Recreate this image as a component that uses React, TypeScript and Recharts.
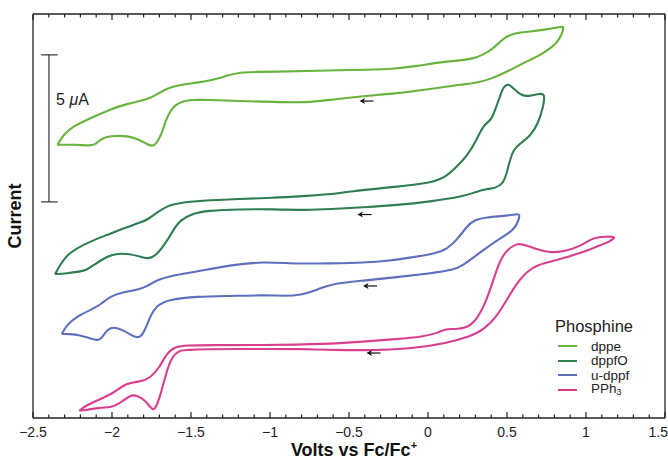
import React from 'react';
import { LineChart, Line, XAxis, YAxis, ReferenceLine, ReferenceDot, Legend } from 'recharts';

// potential (V vs Fc/Fc+) and current (uA, arbitrary offset)
const dppe: [number, number][] = [
  [-2.346, 9.29], [-2.308, 9.63], [-2.245, 9.93], [-2.139, 10.19], [-2.013, 10.5], [-1.907, 10.68], [-1.823, 10.78],
  [-1.759, 10.87], [-1.707, 11.04], [-1.644, 11.23], [-1.57, 11.33], [-1.464, 11.4], [-1.359, 11.5], [-1.274, 11.64],
  [-1.19, 11.76], [-1.084, 11.77], [-0.979, 11.78], [-0.768, 11.8], [-0.557, 11.83], [-0.409, 11.84], [-0.198, 11.88],
  [-0.072, 11.97], [0.076, 12.1], [0.182, 12.15], [0.287, 12.22], [0.35, 12.35], [0.413, 12.57], [0.477, 12.91],
  [0.54, 13.09], [0.646, 13.14], [0.751, 13.22], [0.835, 13.29], [0.863, 13.34],
  [0.846, 13.03], [0.815, 12.74], [0.73, 12.4], [0.646, 12.18], [0.561, 11.95], [0.477, 11.72], [0.392, 11.52],
  [0.308, 11.4], [0.223, 11.35], [0.013, 11.19], [-0.198, 11.04], [-0.409, 10.95], [-0.62, 10.82], [-0.768, 10.72],
  [-0.979, 10.75], [-1.19, 10.78], [-1.401, 10.82], [-1.485, 10.82], [-1.549, 10.78], [-1.601, 10.65], [-1.633, 10.42],
  [-1.658, 10.14], [-1.685, 9.68], [-1.717, 9.34], [-1.745, 9.23], [-1.78, 9.32], [-1.844, 9.51], [-1.907, 9.59],
  [-1.97, 9.6], [-2.034, 9.57], [-2.076, 9.46], [-2.108, 9.29], [-2.139, 9.26], [-2.245, 9.3], [-2.346, 9.29],
];

const dppfO: [number, number][] = [
  [-2.361, 4.89], [-2.329, 5.2], [-2.287, 5.54], [-2.223, 5.77], [-2.139, 6.0], [-2.034, 6.22], [-1.928, 6.45],
  [-1.823, 6.64], [-1.77, 6.76], [-1.717, 6.98], [-1.654, 7.21], [-1.57, 7.32], [-1.443, 7.39], [-1.19, 7.45],
  [-0.979, 7.49], [-0.768, 7.55], [-0.557, 7.64], [-0.409, 7.76], [-0.198, 7.87], [0.013, 7.98], [0.118, 8.21],
  [0.182, 8.55], [0.245, 8.89], [0.308, 9.46], [0.35, 9.97], [0.403, 10.14], [0.424, 10.48], [0.456, 10.93],
  [0.477, 11.27], [0.508, 11.38], [0.54, 11.21], [0.593, 10.95], [0.646, 10.95], [0.709, 11.04], [0.741, 11.02],
  [0.73, 10.59], [0.698, 10.02], [0.646, 9.57], [0.582, 9.34], [0.54, 9.12], [0.519, 8.78], [0.498, 8.32],
  [0.477, 7.98], [0.424, 7.81], [0.372, 7.79], [0.308, 7.7], [0.223, 7.53], [0.013, 7.36], [-0.198, 7.24],
  [-0.409, 7.17], [-0.62, 7.1], [-0.768, 7.07], [-0.979, 7.1], [-1.19, 7.1], [-1.401, 7.05], [-1.485, 6.96],
  [-1.57, 6.73], [-1.612, 6.39], [-1.654, 6.0], [-1.717, 5.54], [-1.77, 5.4], [-1.823, 5.49], [-1.886, 5.58],
  [-1.97, 5.6], [-2.034, 5.49], [-2.118, 5.2], [-2.16, 5.03], [-2.203, 4.98], [-2.287, 4.92], [-2.361, 4.89],
];

const uDppf: [number, number][] = [
  [-2.318, 2.86], [-2.287, 3.16], [-2.223, 3.45], [-2.139, 3.67], [-2.076, 3.84], [-2.013, 4.13], [-1.949, 4.26],
  [-1.844, 4.35], [-1.78, 4.47], [-1.717, 4.69], [-1.633, 4.83], [-1.464, 4.98], [-1.253, 5.2], [-1.042, 5.32],
  [-0.831, 5.24], [-0.62, 5.26], [-0.409, 5.28], [-0.241, 5.35], [-0.093, 5.47], [0.055, 5.6], [0.118, 5.74],
  [0.182, 6.05], [0.245, 6.51], [0.287, 6.73], [0.372, 6.83], [0.477, 6.87], [0.561, 6.93], [0.582, 6.94],
  [0.572, 6.68], [0.54, 6.39], [0.477, 6.17], [0.392, 5.88], [0.308, 5.54], [0.223, 5.2], [0.16, 5.03],
  [0.013, 4.92], [-0.198, 4.79], [-0.409, 4.67], [-0.62, 4.56], [-0.704, 4.35], [-0.81, 4.18], [-0.894, 4.15],
  [-1.042, 4.18], [-1.253, 4.15], [-1.464, 4.13], [-1.633, 4.04], [-1.717, 3.84], [-1.759, 3.45], [-1.791, 2.99],
  [-1.823, 2.71], [-1.865, 2.77], [-1.928, 2.99], [-1.992, 3.11], [-2.034, 2.99], [-2.065, 2.71], [-2.087, 2.63],
  [-2.139, 2.71], [-2.203, 2.82], [-2.266, 2.86], [-2.318, 2.86],
];

const pph3: [number, number][] = [
  [-2.207, 0.25], [-2.16, 0.44], [-2.076, 0.64], [-1.992, 0.84], [-1.907, 1.2], [-1.823, 1.23], [-1.759, 1.35],
  [-1.696, 1.74], [-1.654, 2.2], [-1.601, 2.43], [-1.527, 2.47], [-1.38, 2.48], [-1.063, 2.48], [-0.641, 2.51],
  [-0.409, 2.6], [-0.198, 2.68], [-0.03, 2.77], [0.055, 2.88], [0.108, 3.03], [0.16, 3.02], [0.245, 3.05],
  [0.308, 3.33], [0.372, 4.01], [0.413, 4.69], [0.456, 5.37], [0.498, 5.71], [0.561, 5.94], [0.603, 5.91],
  [0.688, 5.74], [0.772, 5.62], [0.856, 5.66], [0.962, 5.83], [1.046, 6.15], [1.131, 6.17], [1.194, 6.17],
  [1.152, 6.0], [1.068, 5.83], [0.962, 5.6], [0.815, 5.37], [0.688, 5.2], [0.625, 4.98], [0.561, 4.58],
  [0.498, 4.01], [0.435, 3.45], [0.35, 2.99], [0.266, 2.77], [0.118, 2.54], [-0.093, 2.37], [-0.304, 2.31],
  [-0.515, 2.3], [-0.81, 2.35], [-1.063, 2.35], [-1.443, 2.34], [-1.527, 2.31], [-1.57, 2.31], [-1.622, 2.09],
  [-1.658, 1.52], [-1.696, 0.72], [-1.728, 0.27], [-1.749, 0.3], [-1.791, 0.61], [-1.844, 0.78], [-1.886, 0.78],
  [-1.949, 0.5], [-2.002, 0.36], [-2.076, 0.36], [-2.16, 0.27], [-2.207, 0.25],
];

const seriesNames = ['dppe', 'dppfO', 'u-dppf', 'PPh3'];
const seriesColors = ['#67b33c', '#2f7e50', '#5d6fbe', '#d8408e'];
const seriesData = [dppe, dppfO, uDppf, pph3];

// scan direction arrows (V, uA)
const arrowPoints: [number, number][] = [[-0.389, 10.78], [-0.402, 6.92], [-0.367, 4.49], [-0.345, 2.21]];

const majorTicks = [-2.5, -2, -1.5, -1, -0.5, 0, 0.5, 1, 1.5];
const tickLabels = ['\u22122.5', '\u22122', '\u22121.5', '\u22121', '\u22120.5', '0', '0.5', '1', '1.5'];
const axisTicks = [
  -2.5, -2.4, -2.3, -2.2, -2.1, -2, -1.9, -1.8, -1.7, -1.6, -1.5, -1.4, -1.3, -1.2, -1.1, -1, -0.9, -0.8, -0.7,
  -0.6, -0.5, -0.4, -0.3, -0.2, -0.1, 0, 0.1, 0.2, 0.3, 0.4, 0.5, 0.6, 0.7, 0.8, 0.9, 1, 1.1, 1.2, 1.3, 1.4, 1.5,
];

const scaleBarV = -2.399;
const scaleBarI = [7.35, 12.35];

const ink = '#222';
const font = '"Liberation Sans", Arial, Helvetica, sans-serif';

const toRows = (pts: [number, number][]) => pts.map(([v, i]) => ({ v, i }));

const AxisTick = ({ x, y, payload, side }: any) => {
  const idx = majorTicks.indexOf(payload.value);
  const len = idx >= 0 ? 6 : 3.5;
  const dir = side === 'top' ? 1 : -1;
  const last = idx === majorTicks.length - 1;
  return (
    <g>
      <line x1={x} x2={x} y1={y} y2={y + dir * len} stroke={ink} strokeWidth={1.2} />
      {side === 'bottom' && idx >= 0 && (
        <text x={last ? x + 3 : x} y={y + 19} textAnchor={last ? 'end' : 'middle'} fontSize={14} fill={ink}>
          {tickLabels[idx]}
        </text>
      )}
    </g>
  );
};

const XTitle = (props: any) => {
  const { x, y, width, height } = props.viewBox;
  return (
    <text x={x + width / 2 + 5} y={y + height - 4} textAnchor="middle" fontSize={18} fontWeight="bold" fill="#111">
      Volts vs Fc/Fc<tspan dy={-7} fontSize={11}>+</tspan>
    </text>
  );
};

const YTitle = (props: any) => {
  const { y, height } = props.viewBox;
  const cy = y + height / 2;
  return (
    <text x={15} y={cy} transform={`rotate(-90, 15, ${cy})`} textAnchor="middle" dominantBaseline="central"
      fontSize={18} fontWeight="bold" fill="#111">
      Current
    </text>
  );
};

const arrowShape = (p: any) => (
  <g>
    <line x1={p.cx - 4} x2={p.cx + 7} y1={p.cy} y2={p.cy} stroke="#111" strokeWidth={1.2} />
    <path d={`M${p.cx - 7},${p.cy} L${p.cx - 1.5},${p.cy - 3} L${p.cx - 3},${p.cy} L${p.cx - 1.5},${p.cy + 3} Z`} fill="#111" />
  </g>
);

const scaleText = (p: any) => (
  <text x={p.cx} y={p.cy} fontSize={16} fill={ink}>
    5 <tspan fontStyle="italic">&mu;</tspan>A
  </text>
);

const LegendBox = () => (
  <div style={{ fontFamily: font, color: ink }}>
    <div style={{ fontSize: 16.5, lineHeight: '18px', paddingLeft: 1 }}>Phosphine</div>
    <div style={{ marginTop: 4 }}>
      {seriesNames.map((n, k) => (
        <div key={n} style={{ display: 'flex', alignItems: 'center', height: 14.5, fontSize: 13.5, lineHeight: '13px' }}>
          <span style={{ display: 'inline-block', width: 19, height: 2, background: seriesColors[k], marginLeft: 4, marginRight: 14 }} />
          <span>
            {n === 'PPh3' ? <>PPh<span style={{ fontSize: 9, position: 'relative', top: 2 }}>3</span></> : n}
          </span>
        </div>
      ))}
    </div>
  </div>
);

export default function App() {
  return (
    <div style={{ position: 'absolute', left: 0, top: 0, width: 668, height: 460, background: '#fff', fontFamily: font }}>
      <LineChart width={668} height={460} margin={{ top: 0, right: 3, bottom: 0, left: 0 }}>
        <XAxis dataKey="v" type="number" domain={[-2.5, 1.5]} allowDataOverflow ticks={axisTicks} interval={0}
          tickSize={0} tickMargin={0} height={42} axisLine={{ stroke: ink, strokeWidth: 1.3 }}
          tick={(p: any) => <AxisTick {...p} side="bottom" />} label={XTitle} />
        <XAxis xAxisId="top" orientation="top" dataKey="v" type="number" domain={[-2.5, 1.5]} allowDataOverflow
          ticks={axisTicks} interval={0} tickSize={0} tickMargin={0} height={14}
          axisLine={{ stroke: ink, strokeWidth: 1.3 }} tick={(p: any) => <AxisTick {...p} side="top" />} />
        <YAxis type="number" domain={[0, 13.74]} allowDataOverflow width={33} tick={false} tickLine={false}
          axisLine={{ stroke: ink, strokeWidth: 1.3 }} label={YTitle} />
        <ReferenceLine x={1.5} stroke={ink} strokeWidth={1.3} />

        <ReferenceLine segment={[{ x: scaleBarV, y: scaleBarI[0] }, { x: scaleBarV, y: scaleBarI[1] }]} stroke="#333" strokeWidth={1.2} />
        <ReferenceLine segment={[{ x: scaleBarV - 0.05, y: scaleBarI[0] }, { x: scaleBarV + 0.055, y: scaleBarI[0] }]} stroke="#333" strokeWidth={1.2} />
        <ReferenceLine segment={[{ x: scaleBarV - 0.05, y: scaleBarI[1] }, { x: scaleBarV + 0.055, y: scaleBarI[1] }]} stroke="#333" strokeWidth={1.2} />
        <ReferenceDot x={-2.354} y={10.65} r={0} shape={scaleText} />

        {seriesData.map((d, k) => (
          <Line key={seriesNames[k]} data={toRows(d)} dataKey="i" name={seriesNames[k]} type="basis"
            stroke={seriesColors[k]} strokeWidth={2.1} strokeLinejoin="round" dot={false} activeDot={false}
            isAnimationActive={false} />
        ))}

        {arrowPoints.map(([v, i]) => (
          <ReferenceDot key={v} x={v} y={i} r={0} shape={arrowShape} />
        ))}

        <Legend layout="vertical" align="center" verticalAlign="middle" content={() => <LegendBox />}
          wrapperStyle={{ left: 554, top: 317, width: 112 }} />
      </LineChart>
    </div>
  );
}
